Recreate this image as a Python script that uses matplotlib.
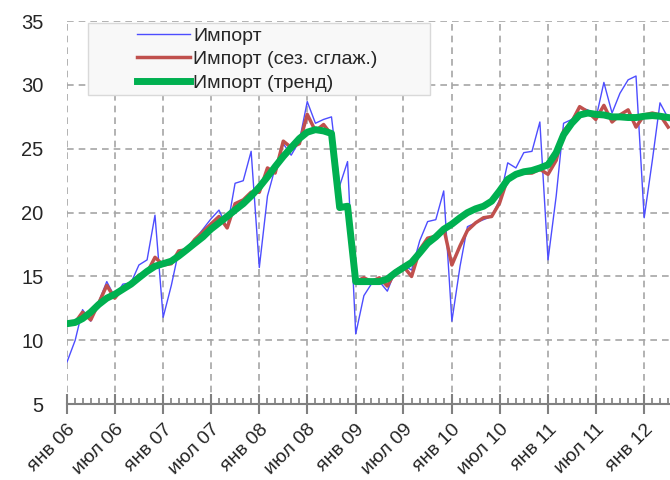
import pandas as pd
import matplotlib.pyplot as plt
import matplotlib.dates as mdates
from matplotlib.patches import Rectangle

plt.rcParams['font.family'] = ['Liberation Sans', 'DejaVu Sans']

# monthly data, Jan 2006 - Apr 2012
months = pd.date_range('2006-01-01', periods=76, freq='MS')

imports_raw = [
    8.3, 10.0, 12.4, 11.5, 13.0, 14.6, 13.4, 14.4, 14.5, 15.9, 16.3, 19.8,
    11.8, 14.3, 17.0, 17.0, 17.9, 18.7, 19.5, 20.2, 18.8, 22.3, 22.5, 24.8,
    15.7, 21.3, 23.5, 25.4, 24.5, 25.6, 28.7, 27.0, 27.3, 27.5, 22.1, 24.0,
    10.5, 13.5, 14.4, 14.6, 13.85, 15.5, 15.9, 15.5, 17.8, 19.3, 19.45, 21.7,
    11.5, 15.8, 18.9, 19.2, 19.45, 19.7, 21.0, 23.9, 23.5, 24.7, 24.8, 27.1,
    16.3, 21.3, 27.0, 27.3, 28.2, 28.05, 27.3, 30.2, 27.8, 29.35, 30.4, 30.7,
    19.6, 24.1, 28.6, 27.4,
]
imports_sa = [
    11.3, 11.4, 12.2, 11.6, 12.9, 14.3, 13.3, 14.1, 14.4, 15.1, 15.3, 16.5,
    15.9, 16.0, 17.0, 17.1, 17.9, 18.5, 19.1, 19.7, 18.8, 20.7, 21.0, 21.6,
    21.6, 23.5, 23.1, 25.6, 25.1, 25.4, 27.7, 26.4, 26.9, 26.1, 20.3, 20.5,
    14.6, 14.9, 14.6, 14.9, 14.25, 15.4, 15.8, 15.0, 17.1, 18.0, 18.15, 18.8,
    15.9, 17.4, 18.6, 19.2, 19.6, 19.7, 20.75, 22.7, 23.0, 23.1, 23.1, 23.4,
    23.0, 24.1, 26.4, 27.1, 28.3, 27.9, 27.3, 28.4, 27.1, 27.65, 28.05, 26.7,
    27.65, 27.8, 27.65, 26.7,
]
imports_trend = [
    11.3, 11.4, 11.7, 12.2, 12.8, 13.3, 13.6, 14.0, 14.4, 14.9, 15.4, 15.8,
    16.0, 16.2, 16.6, 17.1, 17.6, 18.1, 18.7, 19.2, 19.7, 20.2, 20.7, 21.3,
    22.0, 22.8, 23.6, 24.4, 25.1, 25.8, 26.3, 26.5, 26.4, 26.2, 20.4, 20.5,
    14.6, 14.6, 14.6, 14.6, 14.8, 15.3, 15.7, 16.1, 16.85, 17.6, 18.1, 18.7,
    19.1, 19.6, 20.0, 20.3, 20.5, 20.9, 21.7, 22.6, 23.0, 23.2, 23.3, 23.5,
    23.75, 24.7, 26.1, 27.0, 27.65, 27.8, 27.7, 27.65, 27.5, 27.5, 27.45, 27.45,
    27.55, 27.6, 27.55, 27.45,
]

tick_dates = pd.date_range('2006-01-01', '2012-01-01', freq='6MS')
tick_labels = ['янв 06', 'июл 06', 'янв 07', 'июл 07', 'янв 08', 'июл 08',
               'янв 09', 'июл 09', 'янв 10', 'июл 10', 'янв 11', 'июл 11',
               'янв 12']

fig = plt.figure(figsize=(6.7, 4.8), dpi=100)
ax = fig.add_axes([0.1, 0.158, 0.9, 0.798])

ax.plot(months, imports_raw, color='#4d4dff', lw=1, label='Импорт')
ax.plot(months, imports_sa, color='#c0504d', lw=2.5, label='Импорт (сез. сглаж.)')
ax.plot(months, imports_trend, color='#00b050', lw=5, label='Импорт (тренд)')

ax.set_xlim(pd.Timestamp('2006-01-01'), pd.Timestamp('2012-04-08'))
ax.set_ylim(5, 35)
ax.set_yticks(range(5, 36, 5))

ax.set_xticks(tick_dates)
ax.set_xticklabels(tick_labels, rotation=45, ha='right', rotation_mode='anchor')
ax.xaxis.set_minor_locator(mdates.MonthLocator())

for s in ['top', 'right', 'left']:
    ax.spines[s].set_visible(False)
ax.spines['bottom'].set_color('#808080')
ax.spines['bottom'].set_linewidth(1.5)

ax.grid(True, which='major', color='#a6a6a6', linestyle=(0, (4, 3)), lw=1.2)
ax.set_axisbelow(True)
ax.tick_params(axis='x', which='major', direction='inout', length=14, width=1.5,
               color='#808080', labelsize=14, pad=5, labelcolor='#262626')
ax.tick_params(axis='x', which='minor', direction='in', length=4, width=1.2,
               color='#808080')
ax.tick_params(axis='y', length=0, labelsize=14.5, pad=17, labelcolor='#262626')

# legend box drawn by hand to get the wide padding
fig.patches.append(Rectangle((88 / 670, 1 - 95 / 480), 342 / 670, 72 / 480,
                             transform=fig.transFigure, facecolor='#f8f8f8',
                             edgecolor='#d9d9d9', lw=1, zorder=3))
leg = fig.legend(loc='upper left', bbox_to_anchor=(137 / 670, 1 - 27 / 480),
                 frameon=False, fontsize=14, borderpad=0, borderaxespad=0,
                 handlelength=2.75, handletextpad=0.15, labelspacing=0.31)
for t in leg.get_texts():
    t.set_color('#262626')

plt.savefig('out.png', dpi=100)
